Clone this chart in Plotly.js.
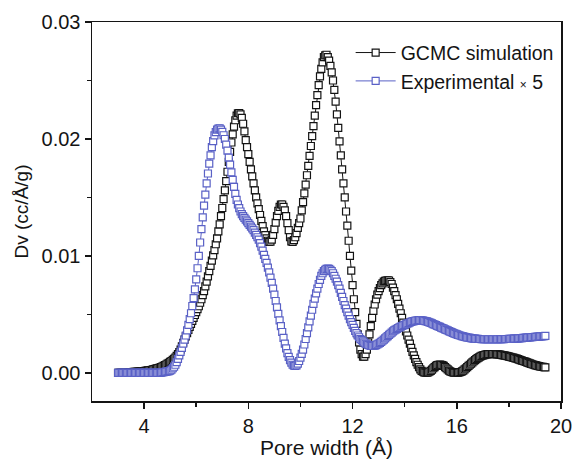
<!DOCTYPE html>
<html>
<head>
<meta charset="utf-8">
<script src="https://cdn.plot.ly/plotly-3.0.1.min.js"></script>
<style>html,body{margin:0;padding:0;background:#fff;}#chart{width:574px;height:464px;}</style>
</head>
<body>
<div id="chart"></div>
<script>
const poreWidth = [
3.00,3.05,3.10,3.15,3.20,3.25,3.30,3.35,3.40,3.45,3.50,3.55,3.60,3.65,3.70,3.75,3.80,3.85,3.90,3.95,
4.00,4.05,4.10,4.15,4.20,4.25,4.30,4.35,4.40,4.45,4.50,4.55,4.60,4.65,4.70,4.75,4.80,4.85,4.90,4.95,
5.00,5.05,5.10,5.15,5.20,5.25,5.30,5.35,5.40,5.45,5.50,5.55,5.60,5.65,5.70,5.75,5.80,5.85,5.90,5.95,
6.00,6.05,6.10,6.15,6.20,6.25,6.30,6.35,6.40,6.45,6.50,6.55,6.60,6.65,6.70,6.75,6.80,6.85,6.90,6.95,
7.00,7.05,7.10,7.15,7.20,7.25,7.30,7.35,7.40,7.45,7.50,7.55,7.60,7.65,7.70,7.75,7.80,7.85,7.90,7.95,
8.00,8.05,8.10,8.15,8.20,8.25,8.30,8.35,8.40,8.45,8.50,8.55,8.60,8.65,8.70,8.75,8.80,8.85,8.90,8.95,
9.00,9.05,9.10,9.15,9.20,9.25,9.30,9.35,9.40,9.45,9.50,9.55,9.60,9.65,9.70,9.75,9.80,9.85,9.90,9.95,
10.00,10.05,10.10,10.15,10.20,10.25,10.30,10.35,10.40,10.45,10.50,10.55,10.60,10.65,10.70,10.75,10.80,10.85,10.90,10.95,
11.00,11.05,11.10,11.15,11.20,11.25,11.30,11.35,11.40,11.45,11.50,11.55,11.60,11.65,11.70,11.75,11.80,11.85,11.90,11.95,
12.00,12.05,12.10,12.15,12.20,12.25,12.30,12.35,12.40,12.45,12.50,12.55,12.60,12.65,12.70,12.75,12.80,12.85,12.90,12.95,
13.00,13.05,13.10,13.15,13.20,13.25,13.30,13.35,13.40,13.45,13.50,13.55,13.60,13.65,13.70,13.75,13.80,13.85,13.90,13.95,
14.00,14.05,14.10,14.15,14.20,14.25,14.30,14.35,14.40,14.45,14.50,14.55,14.60,14.65,14.70,14.75,14.80,14.85,14.90,14.95,
15.00,15.05,15.10,15.15,15.20,15.25,15.30,15.35,15.40,15.45,15.50,15.55,15.60,15.65,15.70,15.75,15.80,15.85,15.90,15.95,
16.00,16.05,16.10,16.15,16.20,16.25,16.30,16.35,16.40,16.45,16.50,16.55,16.60,16.65,16.70,16.75,16.80,16.85,16.90,16.95,
17.00,17.05,17.10,17.15,17.20,17.25,17.30,17.35,17.40,17.45,17.50,17.55,17.60,17.65,17.70,17.75,17.80,17.85,17.90,17.95,
18.00,18.05,18.10,18.15,18.20,18.25,18.30,18.35,18.40,18.45,18.50,18.55,18.60,18.65,18.70,18.75,18.80,18.85,18.90,18.95,
19.00,19.05,19.10,19.15,19.20,19.25,19.30,19.35,19.40];

const gcmcDv = [
0.00000,0.00000,0.00000,0.00000,0.00000,0.00000,0.00000,0.00000,0.00002,0.00004,0.00006,0.00008,0.00009,0.00010,0.00010,0.00011,0.00011,0.00012,0.00013,0.00014,
0.00016,0.00017,0.00019,0.00021,0.00023,0.00025,0.00027,0.00030,0.00033,0.00036,0.00039,0.00042,0.00046,0.00050,0.00055,0.00060,0.00066,0.00072,0.00079,0.00086,
0.00094,0.00102,0.00111,0.00121,0.00132,0.00145,0.00160,0.00178,0.00200,0.00228,0.00258,0.00285,0.00312,0.00340,0.00368,0.00394,0.00420,0.00445,0.00470,0.00495,
0.00520,0.00545,0.00570,0.00600,0.00630,0.00665,0.00700,0.00740,0.00780,0.00825,0.00870,0.00915,0.00960,0.01005,0.01050,0.01100,0.01150,0.01210,0.01270,0.01340,
0.01410,0.01485,0.01560,0.01640,0.01720,0.01805,0.01890,0.01970,0.02040,0.02105,0.02160,0.02200,0.02220,0.02222,0.02210,0.02180,0.02130,0.02065,0.01990,0.01930,
0.01870,0.01805,0.01740,0.01680,0.01620,0.01560,0.01500,0.01450,0.01400,0.01350,0.01300,0.01255,0.01210,0.01178,0.01150,0.01130,0.01120,0.01122,0.01140,0.01180,
0.01230,0.01285,0.01340,0.01385,0.01420,0.01440,0.01440,0.01420,0.01390,0.01340,0.01280,0.01220,0.01160,0.01125,0.01120,0.01135,0.01160,0.01195,0.01240,0.01280,
0.01320,0.01390,0.01460,0.01535,0.01610,0.01690,0.01770,0.01855,0.01940,0.02025,0.02110,0.02200,0.02290,0.02375,0.02460,0.02535,0.02600,0.02655,0.02700,0.02715,
0.02720,0.02700,0.02670,0.02625,0.02570,0.02500,0.02420,0.02320,0.02210,0.02095,0.01980,0.01860,0.01740,0.01620,0.01500,0.01380,0.01260,0.01130,0.01000,0.00875,
0.00750,0.00630,0.00520,0.00420,0.00330,0.00260,0.00200,0.00160,0.00140,0.00140,0.00160,0.00200,0.00260,0.00330,0.00400,0.00470,0.00530,0.00585,0.00630,0.00670,
0.00700,0.00725,0.00750,0.00765,0.00780,0.00787,0.00790,0.00792,0.00790,0.00777,0.00760,0.00730,0.00700,0.00665,0.00630,0.00590,0.00550,0.00510,0.00470,0.00430,
0.00390,0.00355,0.00320,0.00285,0.00250,0.00215,0.00180,0.00150,0.00120,0.00093,0.00070,0.00050,0.00030,0.00018,0.00010,0.00005,0.00003,0.00003,0.00005,0.00010,
0.00018,0.00028,0.00040,0.00050,0.00060,0.00066,0.00070,0.00071,0.00070,0.00066,0.00060,0.00050,0.00040,0.00030,0.00020,0.00013,0.00008,0.00005,0.00003,0.00002,
0.00002,0.00003,0.00005,0.00008,0.00013,0.00020,0.00030,0.00040,0.00050,0.00060,0.00070,0.00080,0.00090,0.00100,0.00110,0.00118,0.00126,0.00133,0.00139,0.00145,
0.00150,0.00153,0.00156,0.00158,0.00160,0.00161,0.00162,0.00162,0.00162,0.00161,0.00160,0.00159,0.00158,0.00156,0.00154,0.00152,0.00150,0.00148,0.00146,0.00143,
0.00140,0.00137,0.00134,0.00131,0.00128,0.00125,0.00122,0.00118,0.00114,0.00110,0.00106,0.00102,0.00098,0.00094,0.00090,0.00086,0.00082,0.00078,0.00074,0.00070,
0.00067,0.00064,0.00061,0.00058,0.00055,0.00053,0.00051,0.00049,0.00048];

const expDv = [
0.00000,0.00000,0.00000,0.00000,0.00000,0.00000,0.00000,0.00000,0.00000,0.00000,0.00000,0.00000,0.00000,0.00000,0.00000,0.00000,0.00000,0.00000,0.00000,0.00000,
0.00000,0.00000,0.00000,0.00000,0.00000,0.00000,0.00000,0.00000,0.00000,0.00000,0.00000,0.00000,0.00000,0.00003,0.00005,0.00007,0.00009,0.00011,0.00013,0.00016,
0.00020,0.00028,0.00040,0.00053,0.00070,0.00093,0.00120,0.00150,0.00180,0.00215,0.00250,0.00285,0.00320,0.00363,0.00410,0.00460,0.00510,0.00572,0.00640,0.00715,
0.00800,0.00895,0.01000,0.01115,0.01230,0.01330,0.01430,0.01525,0.01620,0.01705,0.01790,0.01860,0.01930,0.01982,0.02030,0.02058,0.02080,0.02088,0.02090,0.02080,
0.02060,0.02032,0.02000,0.01952,0.01900,0.01840,0.01780,0.01715,0.01650,0.01590,0.01530,0.01480,0.01440,0.01408,0.01380,0.01358,0.01340,0.01325,0.01310,0.01295,
0.01280,0.01265,0.01250,0.01235,0.01220,0.01200,0.01180,0.01160,0.01140,0.01110,0.01080,0.01045,0.01010,0.00975,0.00940,0.00900,0.00860,0.00815,0.00770,0.00720,
0.00670,0.00615,0.00560,0.00505,0.00450,0.00400,0.00350,0.00300,0.00250,0.00210,0.00170,0.00138,0.00110,0.00088,0.00070,0.00062,0.00060,0.00065,0.00080,0.00102,
0.00130,0.00163,0.00200,0.00243,0.00290,0.00340,0.00390,0.00440,0.00490,0.00540,0.00590,0.00635,0.00680,0.00720,0.00760,0.00795,0.00830,0.00852,0.00870,0.00882,
0.00890,0.00892,0.00890,0.00882,0.00870,0.00852,0.00830,0.00805,0.00780,0.00750,0.00720,0.00685,0.00650,0.00615,0.00580,0.00550,0.00520,0.00490,0.00460,0.00435,
0.00410,0.00385,0.00360,0.00340,0.00320,0.00305,0.00290,0.00280,0.00270,0.00260,0.00250,0.00245,0.00240,0.00235,0.00232,0.00230,0.00230,0.00233,0.00238,0.00244,
0.00250,0.00257,0.00265,0.00275,0.00285,0.00295,0.00305,0.00315,0.00325,0.00335,0.00345,0.00355,0.00363,0.00370,0.00377,0.00384,0.00390,0.00396,0.00401,0.00406,
0.00411,0.00416,0.00421,0.00426,0.00431,0.00436,0.00440,0.00443,0.00446,0.00448,0.00450,0.00451,0.00451,0.00450,0.00448,0.00446,0.00443,0.00440,0.00436,0.00432,
0.00428,0.00423,0.00418,0.00413,0.00408,0.00403,0.00398,0.00393,0.00388,0.00383,0.00378,0.00373,0.00368,0.00363,0.00358,0.00353,0.00348,0.00343,0.00338,0.00334,
0.00330,0.00326,0.00322,0.00318,0.00315,0.00312,0.00309,0.00306,0.00303,0.00301,0.00299,0.00297,0.00295,0.00294,0.00293,0.00292,0.00291,0.00290,0.00290,0.00289,
0.00289,0.00289,0.00288,0.00288,0.00288,0.00288,0.00288,0.00288,0.00288,0.00288,0.00288,0.00288,0.00288,0.00289,0.00289,0.00289,0.00289,0.00290,0.00290,0.00290,
0.00291,0.00291,0.00292,0.00292,0.00293,0.00294,0.00294,0.00295,0.00296,0.00297,0.00298,0.00299,0.00300,0.00301,0.00302,0.00303,0.00304,0.00305,0.00306,0.00307,
0.00308,0.00309,0.00310,0.00311,0.00312,0.00313,0.00314,0.00315,0.00316];

const seriesNames = ["GCMC simulation", "Experimental <span style='font-size:12px'>×</span> 5"];
const xTicks = [4, 8, 12, 16, 20];
const yTicks = [0.00, 0.01, 0.02, 0.03];
const yTickText = ["0.00", "0.01", "0.02", "0.03"];

const FONT = "'Liberation Sans', Arial, sans-serif";
const BLUE = "#5a61c6";
const BLACK = "#141414";

const traces = [
  {
    x: poreWidth, y: gcmcDv, name: seriesNames[0], type: "scatter", mode: "lines+markers",
    line: {color: BLACK, width: 1},
    marker: {symbol: "square", size: 7, color: "#ffffff", line: {color: BLACK, width: 1.2}}
  },
  {
    x: poreWidth, y: expDv, name: seriesNames[1], type: "scatter", mode: "lines+markers",
    line: {color: BLUE, width: 1},
    marker: {symbol: "square", size: 7, color: "#ffffff", line: {color: BLUE, width: 1.2}}
  }
];

const layout = {
  width: 574, height: 464,
  margin: {l: 92, r: 13, t: 22, b: 63},
  paper_bgcolor: "#ffffff", plot_bgcolor: "#ffffff",
  font: {family: FONT, size: 19, color: BLACK},
  showlegend: true,
  legend: {
    x: 0.995, xanchor: "right", y: 0.97, yanchor: "top",
    bgcolor: "rgba(0,0,0,0)", borderwidth: 0,
    font: {family: FONT, size: 19.5, color: BLACK},
    tracegroupgap: 0, itemwidth: 40
  },
  xaxis: {
    range: [2, 20], tickvals: xTicks, ticktext: xTicks.map(String),
    ticks: "outside", ticklen: 6, tickwidth: 1.5, tickcolor: BLACK,
    minor: {tickvals: [6, 10, 14, 18], ticks: "outside", ticklen: 4, tickwidth: 1.5, tickcolor: BLACK},
    showline: true, linecolor: BLACK, linewidth: 1.5, mirror: true,
    showgrid: false, zeroline: false,
    tickfont: {family: FONT, size: 20, color: BLACK},
    title: {text: "Pore width (Å)", font: {family: FONT, size: 21, color: BLACK}, standoff: 4}
  },
  yaxis: {
    range: [-0.0024, 0.03], tickvals: yTicks, ticktext: yTickText,
    ticks: "outside", ticklen: 6, tickwidth: 1.5, tickcolor: BLACK,
    minor: {tickvals: [0.005, 0.015, 0.025], ticks: "outside", ticklen: 4, tickwidth: 1.5, tickcolor: BLACK},
    showline: true, linecolor: BLACK, linewidth: 1.5, mirror: true,
    showgrid: false, zeroline: false,
    tickfont: {family: FONT, size: 20, color: BLACK},
    title: {text: "Dv (cc/Å/g)", font: {family: FONT, size: 19, color: BLACK}, standoff: 8}
  }
};

Plotly.newPlot("chart", traces, layout, {displayModeBar: false, staticPlot: true});
</script>
</body>
</html>
